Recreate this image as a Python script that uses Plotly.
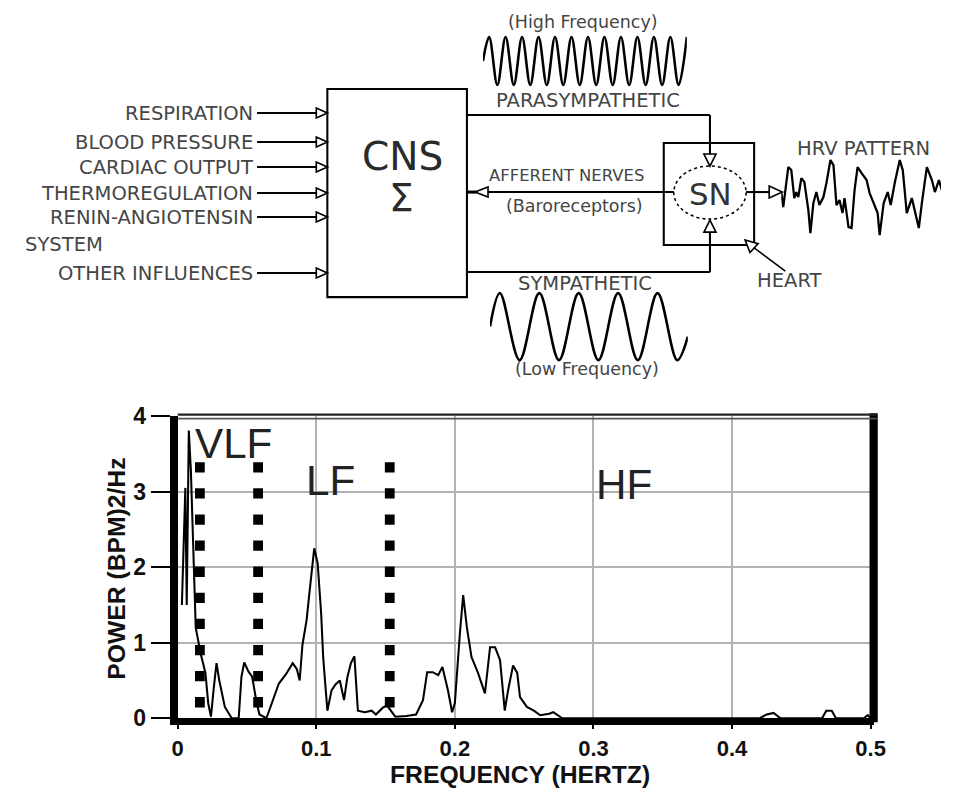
import plotly.graph_objects as go

# ---------------- spectrum data ----------------
freq_hz = [0.003, 0.0055, 0.0065, 0.008, 0.0095, 0.0115, 0.013, 0.0165, 0.020, 0.022,
           0.024, 0.026, 0.028, 0.030, 0.034, 0.039, 0.044, 0.046, 0.048, 0.051,
           0.0537, 0.057, 0.059, 0.064, 0.068, 0.073, 0.078, 0.083, 0.086, 0.088,
           0.090, 0.093, 0.095, 0.0985, 0.101, 0.1035, 0.105, 0.108, 0.111, 0.114,
           0.117, 0.120, 0.1225, 0.125, 0.1275, 0.130, 0.135, 0.140, 0.143, 0.148,
           0.151, 0.154, 0.157, 0.165, 0.172, 0.177, 0.180, 0.184, 0.188, 0.191,
           0.195, 0.198, 0.200, 0.2036, 0.206, 0.2087, 0.212, 0.2167, 0.2217, 0.2254,
           0.229, 0.2326, 0.236, 0.2384, 0.242, 0.245, 0.247, 0.252, 0.257, 0.2616,
           0.268, 0.271, 0.2775, 0.300, 0.420, 0.425, 0.430, 0.435, 0.465, 0.468,
           0.472, 0.475, 0.495, 0.498, 0.500]
power = [1.50, 3.05, 1.50, 3.81, 3.28, 2.18, 1.20, 0.86, 0.60, 0.20,
         0.02, 0.40, 0.73, 0.50, 0.15, 0.00, 0.00, 0.55, 0.74, 0.62,
         0.55, 0.20, 0.05, 0.00, 0.20, 0.46, 0.58, 0.73, 0.65, 0.50,
         0.97, 1.30, 1.65, 2.25, 2.05, 1.39, 0.80, 0.10, 0.37, 0.45,
         0.50, 0.24, 0.55, 0.73, 0.82, 0.10, 0.08, 0.10, 0.05, 0.14,
         0.17, 0.10, 0.02, 0.03, 0.05, 0.24, 0.61, 0.61, 0.57, 0.68,
         0.37, 0.08, 0.20, 1.12, 1.63, 1.20, 0.81, 0.60, 0.33, 0.94,
         0.94, 0.77, 0.10, 0.37, 0.70, 0.60, 0.28, 0.15, 0.10, 0.04,
         0.06, 0.08, 0.00, 0.00, 0.00, 0.05, 0.07, 0.00, 0.00, 0.10,
         0.10, 0.00, 0.00, 0.04, 0.00]

band_edges_hz = [0.016, 0.058, 0.153]
band_names = ["VLF", "LF", "HF"]
x_tick_vals = [0, 0.1, 0.2, 0.3, 0.4, 0.5]
x_tick_text = ["0", "0.1", "0.2", "0.3", "0.4", "0.5"]
y_tick_vals = [0, 1, 2, 3, 4]
y_tick_text = ["0", "1", "2", "3", "4"]

# ---------------- schematic waveforms ----------------
# parasympathetic (high frequency) oscillation: extrema, time in cycles
hf_t = [0, 0.37, 0.87, 1.37, 1.87, 2.37, 2.87, 3.37, 3.87, 4.37, 4.87, 5.37, 5.87,
        6.37, 6.87, 7.37, 7.87, 8.37, 8.87, 9.37, 9.87, 10.37, 10.87, 11.37, 11.87, 12.37]
hf_level = [0, 1, -1, 1, -1, 1, -1, 1, -1, 1, -1, 1, -1,
            1, -1, 1, -1, 1, -1, 1, -1, 1, -1, 1, -1, 1]
# sympathetic (low frequency) oscillation
lf_t = [0, 0.25, 0.75, 1.25, 1.75, 2.25, 2.75, 3.25, 3.75, 4.25, 4.75, 5.02]
lf_level = [0, 1, -1, 1, -1, 1, -1, 1, -1, 1, -1, -0.3]
# resulting heart-rate pattern
hrv_t = [0, 2, 7, 10, 13, 15, 17, 20, 23, 27, 29, 32, 35, 38, 42, 45, 49, 52, 55, 58,
         61, 63, 67, 70, 73, 76, 80, 85, 88, 92, 96, 98, 102, 106, 109, 113, 118, 121,
         125, 130, 133, 137, 140, 145, 150, 153, 157, 162, 167, 170, 173]
hrv_level = [11, -4, 36, 33, 5, 11, 6, 25, 21, -7, -30, 0, 11, -2, 6, 20, 43, 38, -2, 3,
             -10, 5, -24, -25, 13, 36, 30, 23, 10, 0, -10, -32, 0, 11, -2, 20, 43, 33,
             -10, 5, -7, -25, 0, 36, 23, 11, 23, 6, -30, -14, -10]

input_labels = ["RESPIRATION", "BLOOD PRESSURE", "CARDIAC OUTPUT",
                "THERMOREGULATION", "RENIN-ANGIOTENSIN", "OTHER INFLUENCES"]

# figure size; layout positions below are given in page pixels, and
# OX/OY + SX/SY describe where the figure lands on the page
W, H = 953, 796
OX, OY = 8.0, 13.0
SX, SY = 0.977, 0.967
SPAN_X, SPAN_Y = SX * W, SY * H
K = 1 / 0.972          # size compensation for fonts / strokes

BOLD = "Liberation Sans"
DIAG = "DejaVu Sans"
GREY = "#454545"

fig = go.Figure()

# ---------------- spectrum panel ----------------
fig.add_trace(go.Scatter(x=freq_hz, y=power, mode="lines",
                         line=dict(color="black", width=2 * K),
                         xaxis="x", yaxis="y", hoverinfo="skip"))
edge_top = 3.39
for e in band_edges_hz:
    fig.add_trace(go.Scatter(x=[e, e], y=[edge_top, 0], mode="lines",
                             line=dict(color="black", width=9.5 * K, dash="10.3px,15.8px"),
                             xaxis="x", yaxis="y", hoverinfo="skip"))

# ---------------- waveforms ----------------
fig.add_trace(go.Scatter(x=hf_t, y=hf_level, mode="lines", line_shape="spline",
                         line=dict(color="black", width=2.5 * K),
                         xaxis="x2", yaxis="y2", hoverinfo="skip"))
fig.add_trace(go.Scatter(x=lf_t, y=lf_level, mode="lines", line_shape="spline",
                         line=dict(color="black", width=2.5 * K),
                         xaxis="x3", yaxis="y3", hoverinfo="skip"))
fig.add_trace(go.Scatter(x=hrv_t, y=hrv_level, mode="lines",
                         line=dict(color="black", width=2.2 * K),
                         xaxis="x4", yaxis="y4", hoverinfo="skip"))
# canvas layer for the block diagram (page pixel units)
fig.add_trace(go.Scatter(x=[OX + 1], y=[OY + 1], mode="markers", marker=dict(opacity=0),
                         xaxis="x5", yaxis="y5", hoverinfo="skip"))


def px_dom_x(a, b):
    return [max(0, (a - OX) / SPAN_X), min(1, (b - OX) / SPAN_X)]


def px_dom_y(top, bottom):
    return [max(0, 1 - (bottom - OY) / SPAN_Y), min(1, 1 - (top - OY) / SPAN_Y)]


hidden = dict(visible=False, fixedrange=True)
hrv_right = OX + SPAN_X
fig.update_layout(
    width=W, height=H, margin=dict(l=0, r=0, t=0, b=0),
    paper_bgcolor="white", plot_bgcolor="rgba(0,0,0,0)", showlegend=False,
    xaxis=dict(domain=px_dom_x(179, 872), range=[0, 0.5022],
               tickvals=x_tick_vals, ticktext=x_tick_text,
               ticks="outside", ticklen=4, tickwidth=2, tickcolor="black",
               showline=True, linewidth=7, linecolor="black",
               showgrid=True, gridcolor="#b2b2b2", gridwidth=2, zeroline=False,
               tickfont=dict(family=BOLD, size=round(21 * K), color="#111", weight="bold"),
               anchor="y", fixedrange=True),
    yaxis=dict(domain=px_dom_y(416, 718), range=[0, 4.0],
               tickvals=y_tick_vals, ticktext=y_tick_text,
               ticks="outside", ticklen=19, tickwidth=2, tickcolor="black",
               showline=True, linewidth=8, linecolor="black",
               showgrid=True, gridcolor="#b2b2b2", gridwidth=2, zeroline=False,
               tickfont=dict(family=BOLD, size=round(22 * K), color="#111", weight="bold"),
               anchor="x", fixedrange=True),
    xaxis2=dict(domain=px_dom_x(483, 686), range=[0, 12.37], anchor="y2", **hidden),
    yaxis2=dict(domain=px_dom_y(61 - 28.8, 61 + 28.8), range=[-1.2, 1.2], anchor="x2", **hidden),
    xaxis3=dict(domain=px_dom_x(490, 687), range=[0, 5.02], anchor="y3", **hidden),
    yaxis3=dict(domain=px_dom_y(326.5 - 40.2, 326.5 + 40.2), range=[-1.2, 1.2], anchor="x3", **hidden),
    xaxis4=dict(domain=px_dom_x(780, hrv_right), range=[0, hrv_right - 780], anchor="y4", **hidden),
    yaxis4=dict(domain=px_dom_y(150, 250), range=[-47, 53], anchor="x4", **hidden),
    xaxis5=dict(domain=[0, 1], range=[OX, OX + SPAN_X], anchor="y5", **hidden),
    yaxis5=dict(domain=[0, 1], range=[OY + SPAN_Y, OY], anchor="x5", **hidden),
)

shapes = []
annotations = []


def line(x0, y0, x1, y1, width=2, color="black", dash=None):
    d = dict(color=color, width=width * K)
    if dash:
        d["dash"] = dash
    shapes.append(dict(type="line", xref="x5", yref="y5", x0=x0, y0=y0, x1=x1, y1=y1,
                       line=d, layer="above"))


def head(tx, ty, dx, dy, length=12, half=5):
    n = (dx * dx + dy * dy) ** 0.5
    dx, dy = dx / n, dy / n
    bx, by = tx - dx * length, ty - dy * length
    nx, ny = -dy, dx
    path = (f"M {tx},{ty} L {bx + nx * half},{by + ny * half} "
            f"L {bx - nx * half},{by - ny * half} Z")
    shapes.append(dict(type="path", xref="x5", yref="y5", path=path,
                       line=dict(color="black", width=1.6 * K), fillcolor="white", layer="above"))


def text(x, y, s, size, color=GREY, family=DIAG, xanchor="center", angle=0, weight="normal"):
    annotations.append(dict(xref="x5", yref="y5", x=x, y=y, text=s, showarrow=False,
                            xanchor=xanchor, yanchor="middle", textangle=angle,
                            font=dict(family=family, size=size * K, color=color, weight=weight)))


# plot frame: right and top borders
line(872, 413, 872, 722, width=8)
line(179, 414.5, 875, 414.5, width=2.2, color="#222")
line(179, 418.5, 875, 418.5, width=1.6, color="#555")

# CNS block and its inputs
shapes.append(dict(type="rect", xref="x5", yref="y5", x0=328, y0=89, x1=467, y1=297,
                   line=dict(color="black", width=2 * K), layer="above"))
input_rows = [113, 142, 167, 193, 217, 273]
for lab, yy in zip(input_labels, input_rows):
    line(258, yy, 318, yy)
    head(328, yy, 1, 0, length=11, half=5)
    text(256, yy, lab, 19, xanchor="right")
text(25, 244, "SYSTEM", 19, xanchor="left")
text(403, 156, "CNS", 38, color="#2a2a2a")
text(402, 198, "Σ", 38, color="#2a2a2a")

# parasympathetic branch
line(467, 115, 709, 115)
line(709, 115, 709, 155)
head(709, 166, 0, 1, length=12, half=6)
text(588, 100, "PARASYMPATHETIC", 19)
text(583, 22, "(High Frequency)", 17)

# sympathetic branch
line(467, 272, 709, 272)
line(709, 272, 709, 231)
head(709, 220, 0, -1, length=12, half=6)
text(585, 283, "SYMPATHETIC", 19)
text(587, 369, "(Low Frequency)", 17)

# afferent feedback
line(488, 192, 673, 192)
line(467, 192, 476, 192, width=3)
head(475, 192, -1, 0, length=13, half=5)
text(566, 175, "AFFERENT NERVES", 16)
text(574, 206, "(Baroreceptors)", 17)

# heart with sinus node
shapes.append(dict(type="rect", xref="x5", yref="y5", x0=663, y0=143, x1=753, y1=245,
                   line=dict(color="black", width=2 * K), layer="above"))
shapes.append(dict(type="circle", xref="x5", yref="y5", x0=673, y0=166, x1=745, y1=219,
                   line=dict(color="black", width=1.5 * K, dash="dot"), layer="above"))
text(710, 194, "SN", 30, color="#333")
line(745, 192, 768, 192)
head(781, 192, 1, 0, length=13, half=6)
text(862, 148, "HRV PATTERN", 19)
line(784, 271, 752, 247, width=1.5)
head(744, 240, -1, -0.9, length=12, half=6)
text(788, 280, "HEART", 19)

# spectrum annotations
band_centers = [(0.0406, 3.64), (0.110, 3.15), (0.322, 3.10)]
for name, (bx, by) in zip(band_names, band_centers):
    annotations.append(dict(xref="x", yref="y", x=bx, y=by, text=name, showarrow=False,
                            font=dict(family=BOLD, size=41 * K, color="#222")))
text(118, 568, "POWER (BPM)2/Hz", 24, color="#111", family=BOLD, angle=-90, weight="bold")
text(520, 774.5, "FREQUENCY (HERTZ)", 24, color="#111", family=BOLD, weight="bold")

fig.update_layout(shapes=shapes, annotations=annotations)
fig.write_html("out.html")
